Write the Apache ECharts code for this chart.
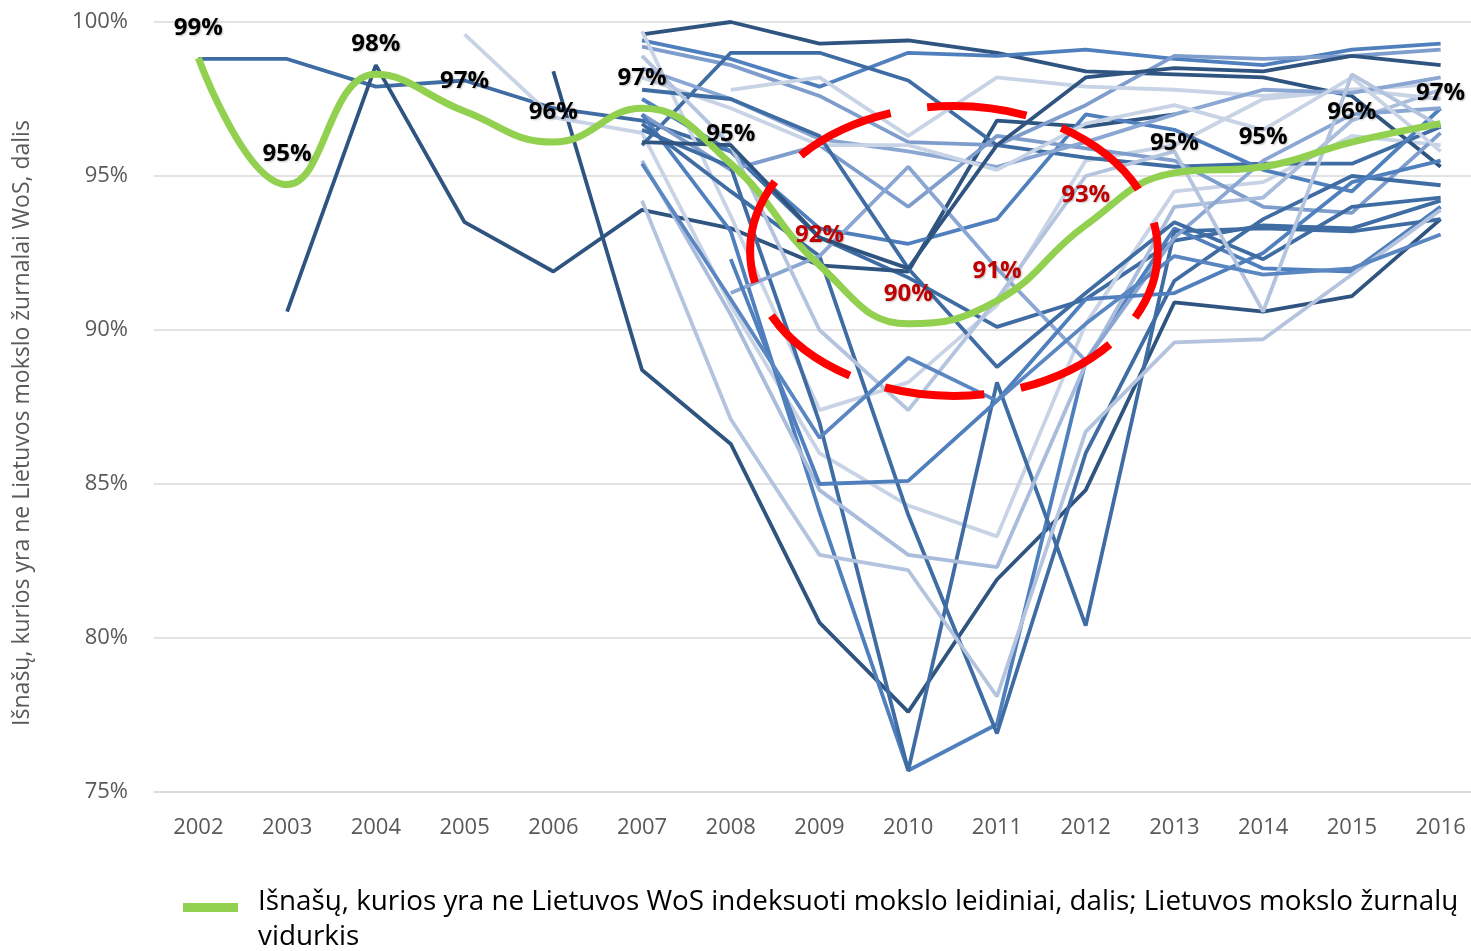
<!DOCTYPE html>
<html>
<head>
<meta charset="utf-8">
<script src="https://cdn.jsdelivr.net/npm/echarts@6/dist/echarts.min.js"></script>
<style>
  html, body { margin: 0; padding: 0; background: #fff; }
  #chart { width: 1471px; height: 951px; }
</style>
</head>
<body>
<div id="chart"></div>
<script>
// Years on the x axis
const years = ['2002', '2003', '2004', '2005', '2006', '2007', '2008', '2009',
               '2010', '2011', '2012', '2013', '2014', '2015', '2016'];

// Average of Lithuanian journals (green line), %
const average = [98.83, 94.72, 98.3, 97.1, 96.1, 97.2, 95.4, 92.1, 90.2, 90.95, 93.4, 95.1, 95.3, 96.1, 96.7];

// Individual journals, % (null = no data that year)
const j01 = [98.8, 98.8, 97.9, 98.1, 97.2, 96.8, 95.8, 93.0, 91.7, 90.1, 91.0, 92.9, 93.4, 93.3, 94.2];
const j02 = [null, 90.6, 98.6, 93.5, 91.9, 93.9, 93.3, 92.1, 91.9, 96.8, 96.6, 97.0, null, null, null];
const j03 = [null, null, null, null, 98.4, 88.7, 86.3, 80.5, 77.6, 81.9, 84.8, 90.9, 90.6, 91.1, 93.6];
const j04 = [null, null, null, 99.6, 96.9, 96.4, 90.8, 86.0, 84.3, 83.3, 90.2, 94.5, 94.8, 96.3, 96.0];
const j05 = [null, null, null, null, null, 99.6, 100.0, 99.3, 99.4, 99.0, 98.4, 98.3, 98.2, 97.6, 95.3];
const j06 = [null, null, null, null, null, 99.4, 98.8, 97.9, 99.0, 98.9, 99.1, 98.8, 98.6, 99.1, 99.3];
const j07 = [null, null, null, null, null, 99.2, 98.6, 97.6, 96.1, 96.0, 97.3, 98.9, 98.8, 98.9, 99.1];
const j08 = [null, null, null, null, null, 99.7, 93.7, 87.4, 88.3, 90.8, 95.5, 96.0, 97.5, 97.8, 98.0];
const j09 = [null, null, null, null, null, 96.0, 99.0, 99.0, 98.1, 96.0, 95.6, 95.3, 95.4, 95.4, 96.6];
const j10 = [null, null, null, null, null, 97.5, 95.8, 93.3, 92.8, 93.6, 97.0, 96.5, 95.2, 94.5, 97.2];
const j11 = [null, null, null, null, null, 97.0, 95.2, 96.0, 94.0, 96.3, 95.9, 95.5, 94.0, 93.8, 96.4];
const j12 = [null, null, null, null, null, 97.0, 93.2, 84.1, 75.7, 77.2, 89.0, 93.3, 92.0, 91.9, 94.0];
const j13 = [null, null, null, null, null, 96.5, 95.3, 87.0, 75.7, 88.3, 80.4, 93.2, 93.3, 93.2, 93.6];
const j14 = [null, null, null, null, null, 96.7, 94.5, 92.4, 84.0, 76.9, 86.0, 91.6, 93.6, 95.0, 94.7];
const j15 = [null, null, null, null, null, 94.2, 87.1, 82.7, 82.2, 78.1, 86.7, 89.6, 89.7, 91.8, 93.9];
const j16 = [null, null, null, null, null, 95.5, 90.5, 84.8, 82.7, 82.3, 88.9, 94.0, 94.3, 96.8, 97.8];
const j17 = [null, null, null, null, null, null, 91.2, 92.4, 95.3, 92.0, 89.0, 93.0, 95.5, 97.0, 97.2];
const j18 = [null, null, null, null, null, null, 92.3, 85.0, 85.1, 87.7, 91.0, 91.2, 92.5, 94.8, 95.5];
const j19 = [null, null, null, null, null, null, 97.8, 98.2, 96.3, 98.2, 97.9, 97.8, 97.6, 97.8, 97.5];
const j20 = [null, null, null, null, null, 98.5, 97.5, 96.2, 95.8, 95.3, 96.1, 97.0, 97.8, 97.7, 98.2];
const j21 = [null, null, null, null, null, 98.2, 97.2, 96.0, 96.0, 95.2, 96.7, 97.3, 96.5, 98.2, 95.8];
const j22 = [null, null, null, null, null, 97.8, 97.5, 96.3, 92.0, 88.8, 91.2, 93.5, 92.3, 94.0, 94.3];
const j23 = [null, null, null, null, null, 98.9, 96.0, 90.0, 87.4, 91.0, 95.0, 95.8, 90.6, 98.3, 96.6];
const j24 = [null, null, null, null, null, 95.4, 91.0, 86.5, 89.1, 87.7, 90.2, 92.4, 91.8, 92.0, 93.1];
const j25 = [null, null, null, null, null, 96.1, 96.0, 93.0, 92.0, 96.0, 98.2, 98.5, 98.4, 98.9, 98.6];

const journals = [j01, j02, j03, j04, j05, j06, j07, j08, j09, j10, j11, j12, j13,
                  j14, j15, j16, j17, j18, j19, j20, j21, j22, j23, j24, j25];

// Shades of blue used for the journal lines
const journalColors = ['#3e6ca3', '#2f5480', '#2f5480', '#c8d3e6', '#2f5480', '#4f7fbd',
                       '#7e9dcc', '#c8d3e6', '#3e6ca3', '#4f7fbd', '#7e9dcc', '#4f7fbd',
                       '#3e6ca3', '#3e6ca3', '#b4c4de', '#a9bcdc', '#8aa6d2', '#4f7fbd',
                       '#c8d3e6', '#8aa6d2', '#c8d3e6', '#3e6ca3', '#b4c4de', '#5a87c2',
                       '#2f5480'];

const avgName = 'Išnašų, kurios yra ne Lietuvos WoS indeksuoti mokslo leidiniai, dalis; Lietuvos mokslo žurnalų vidurkis';
const redYears = ['2009', '2010', '2011', '2012'];

const font = "'Open Sans', sans-serif";
const chart = echarts.init(document.getElementById('chart'));

const journalSeries = journals.map((values, i) => ({
    name: 'journal' + (i + 1),
    type: 'line',
    data: values,
    showSymbol: false,
    silent: true,
    connectNulls: false,
    lineStyle: { width: 3.8, color: journalColors[i] },
    itemStyle: { color: journalColors[i] },
    z: 2
}));

const avgSeries = {
    name: avgName,
    type: 'line',
    smooth: 0.45,
    showSymbol: true,
    symbol: 'circle',
    symbolSize: 0,
    data: average.map((v, i) => ({
        value: v,
        label: {
            color: redYears.includes(years[i]) ? '#c00000' : '#000000'
        }
    })),
    lineStyle: { width: 7, color: '#92d050' },
    itemStyle: { color: '#92d050' },
    label: {
        show: true,
        position: 'top',
        distance: 18,
        fontFamily: font,
        fontSize: 24,
        fontWeight: 'bold',
        textShadowColor: 'rgba(0,0,0,0.25)',
        textShadowBlur: 2,
        textShadowOffsetX: 1,
        textShadowOffsetY: 1,
        formatter: p => Math.round(p.value) + '%'
    },
    labelLayout: { hideOverlap: false },
    z: 5
};

chart.setOption({
    animation: false,
    grid: { left: 154, right: -14, top: 22, bottom: 159, outerBoundsMode: 'none' },
    legend: {
        data: [{
            name: avgName,
            icon: 'path://M0 0H55V0H0Z M0 5H55V14H0Z M0 44H55V44H0Z'
        }],
        left: 178,
        top: 880,
        itemWidth: 55,
        itemHeight: 44,
        itemStyle: { borderWidth: 0 },
        formatter: () => 'Išnašų, kurios yra ne Lietuvos WoS indeksuoti mokslo leidiniai, dalis; Lietuvos mokslo žurnalų\nvidurkis',
        textStyle: {
            fontFamily: font,
            fontSize: 27.8,
            color: '#000',
            lineHeight: 35,
            padding: [0, 0, 0, 15]
        }
    },
    xAxis: {
        type: 'category',
        data: years,
        boundaryGap: true,
        axisLine: { lineStyle: { color: '#d9d9d9', width: 1.5 } },
        axisTick: { show: false },
        axisLabel: { color: '#595959', fontFamily: font, fontSize: 22, margin: 25 }
    },
    yAxis: {
        type: 'value',
        min: 75,
        max: 100,
        interval: 5,
        name: 'Išnašų, kurios yra ne Lietuvos mokslo žurnalai WoS, dalis',
        nameLocation: 'middle',
        nameGap: 120,
        nameTextStyle: { color: '#595959', fontFamily: font, fontSize: 23, padding: [0, 32, 0, 0] },
        axisLine: { show: false },
        axisTick: { show: false },
        splitLine: { lineStyle: { color: '#d9d9d9', width: 1.5 } },
        axisLabel: {
            color: '#595959', fontFamily: font, fontSize: 22, margin: 26,
            formatter: '{value}%'
        }
    },
    series: [...journalSeries, avgSeries]
});

// Red dashed ellipse around the 2009-2012 dip, placed in data coordinates
const step = chart.convertToPixel({ xAxisIndex: 0 }, '2011') - chart.convertToPixel({ xAxisIndex: 0 }, '2010');
const cx = chart.convertToPixel({ xAxisIndex: 0 }, '2010') + 0.515 * step;
const yTop = chart.convertToPixel({ yAxisIndex: 0 }, 97.27);
const yBottom = chart.convertToPixel({ yAxisIndex: 0 }, 87.86);

chart.setOption({
    graphic: [{
        type: 'ellipse',
        z: 100,
        silent: true,
        shape: { cx: cx, cy: (yTop + yBottom) / 2, rx: 2.297 * step, ry: (yBottom - yTop) / 2 },
        style: { fill: 'none', stroke: '#ff0000', lineWidth: 8, lineDash: [100, 37], lineDashOffset: 25 }
    }]
});

window.addEventListener('resize', () => chart.resize());
</script>
</body>
</html>
